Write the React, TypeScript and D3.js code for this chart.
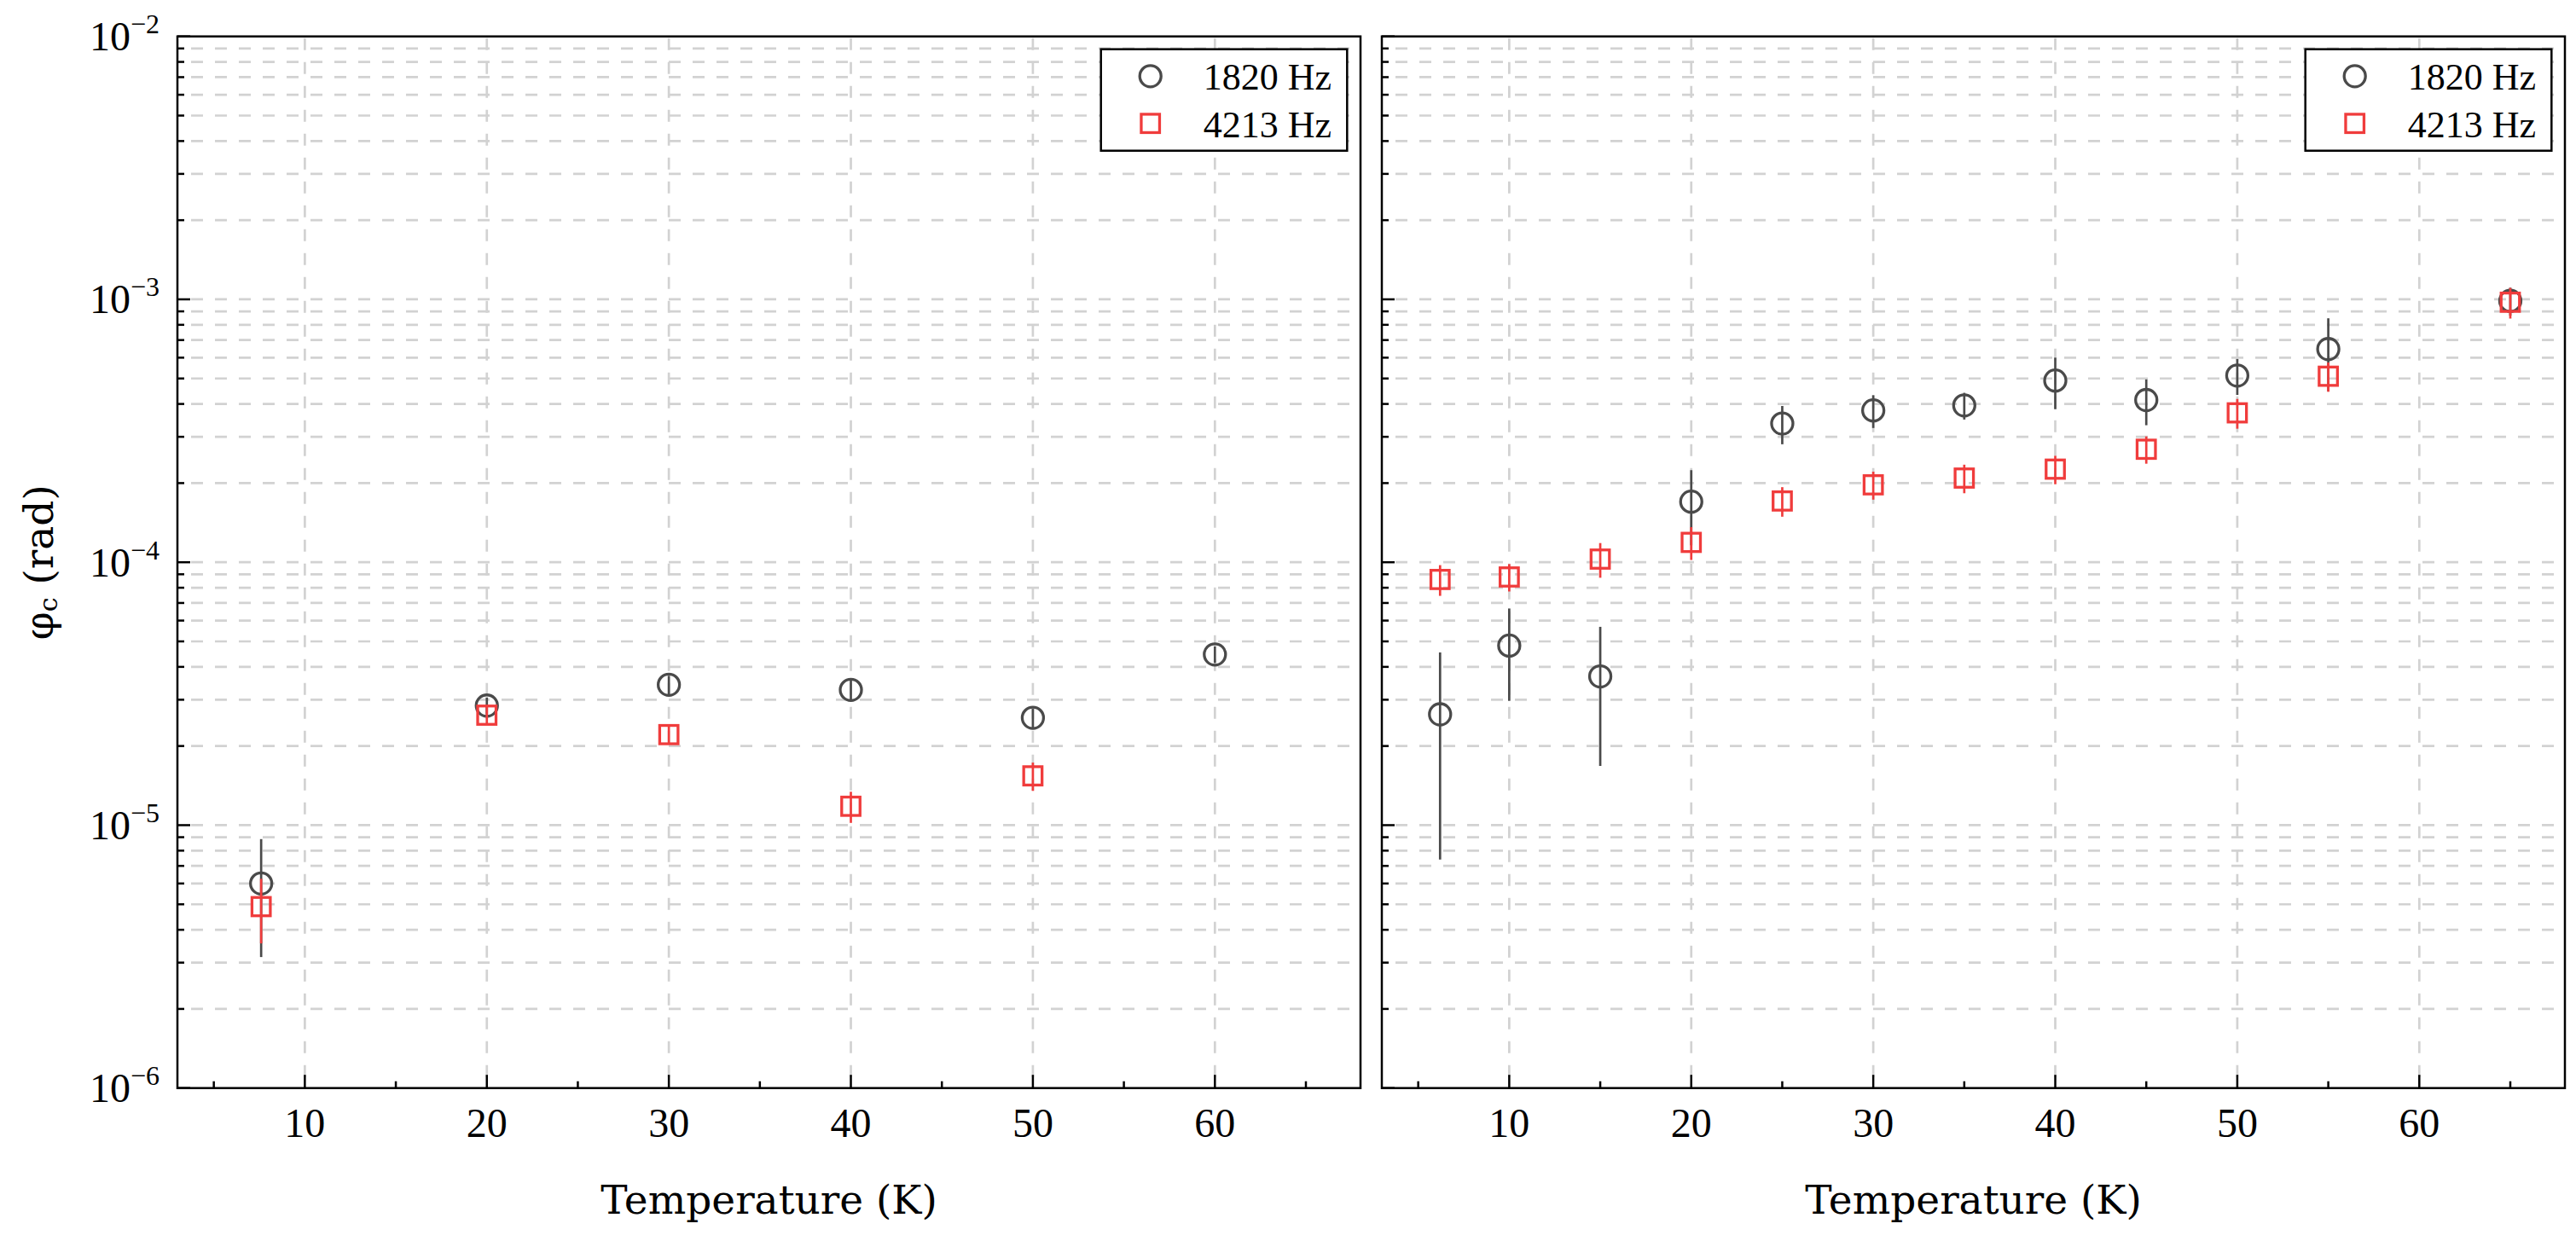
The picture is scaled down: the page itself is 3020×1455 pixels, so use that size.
import React from 'react';
import * as d3 from 'd3';

// ---- data ----
const seriesNames = ['1820 Hz', '4213 Hz'];
const xMajorTicks = [10, 20, 30, 40, 50, 60];
const xMinorTicks = [5, 15, 25, 35, 45, 55, 65];
const yDecades = [-6, -5, -4, -3, -2];
const xDomain = [3, 68];
const yDomain = [1e-6, 1e-2];

// left panel
const leftT1820 = [7.6, 20, 30, 40, 50, 60];
const leftV1820 = [6.0e-6, 2.85e-5, 3.42e-5, 3.27e-5, 2.56e-5, 4.46e-5];
const leftE1820 = [2.85e-6, 2.1e-6, 2.8e-6, 2.8e-6, 2.1e-6, 3.2e-6];
const leftT4213 = [7.6, 20, 30, 40, 50];
const leftV4213 = [4.9e-6, 2.62e-5, 2.21e-5, 1.18e-5, 1.54e-5];
const leftE4213 = [1.35e-6, 2.0e-6, 1.6e-6, 1.6e-6, 1.9e-6];

// right panel
const rightT = [6.2, 10, 15, 20, 25, 30, 35, 40, 45, 50, 55, 65];
const rightV1820 = [2.64e-5, 4.82e-5, 3.68e-5, 1.7e-4, 3.37e-4, 3.78e-4, 3.95e-4, 4.91e-4, 4.14e-4, 5.13e-4, 6.47e-4, 9.87e-4];
const rightE1820 = [1.9e-5, 1.85e-5, 2.0e-5, 5.4e-5, 5.6e-5, 5.4e-5, 4.6e-5, 1.09e-4, 8.2e-5, 8.0e-5, 2.0e-4, 1.2e-4];
const rightV4213 = [8.6e-5, 8.79e-5, 1.028e-4, 1.19e-4, 1.71e-4, 1.97e-4, 2.09e-4, 2.26e-4, 2.69e-4, 3.7e-4, 5.1e-4, 9.75e-4];
const rightE4213 = [1.15e-5, 1.05e-5, 1.55e-5, 1.7e-5, 2.2e-5, 2.4e-5, 2.6e-5, 2.8e-5, 3.2e-5, 4.8e-5, 6.5e-5, 1.3e-4];

// ---- styles ----
const W = 3020;
const H = 1455;
const TOP = 42.7;
const BOTTOM = 1275.7;
const GRAY = '#4a4a4a';
const RED = '#f03c3c';
const GRID = '#d2d2d2';
const TICK_FONT = '"Liberation Serif", "Times New Roman", serif';
const TITLE_FONT = '"DejaVu Serif", serif';

type Pt = { t: number; v: number; e: number };
const zip = (t: number[], v: number[], e: number[]): Pt[] => t.map((tt, i) => ({ t: tt, v: v[i], e: e[i] }));

function Panel({ x0, x1, s1, s2, showYLabels, showYTitle }: { x0: number; x1: number; s1: Pt[]; s2: Pt[]; showYLabels: boolean; showYTitle: boolean }) {
  const x = d3.scaleLinear().domain(xDomain).range([x0, x1]);
  const y = d3.scaleLog().domain(yDomain).range([BOTTOM, TOP]);
  const yMinor: number[] = [];
  yDecades.slice(0, -1).forEach((d) => {
    for (let k = 2; k <= 9; k++) yMinor.push(k * Math.pow(10, d));
  });
  const yMajor = yDecades.map((d) => Math.pow(10, d));
  const cx = (x0 + x1) / 2;
  const lw = 288.6;
  const lh = 119;
  const lx = x1 - 15.7 - lw;
  const ly = TOP + 15;
  const sq = 21.5;
  return (
    <g>
      {/* grid */}
      <g stroke={GRID} strokeWidth={2.7} strokeDasharray="14 14" fill="none">
        {[...yMinor, ...yMajor.slice(1, -1)].map((v, i) => (
          <line key={'gy' + i} x1={x0 + 2} x2={x1 - 2} y1={y(v)} y2={y(v)} strokeDashoffset={-14} />
        ))}
        {xMajorTicks.map((t) => (
          <line key={'gx' + t} x1={x(t)} x2={x(t)} y1={TOP + 2} y2={BOTTOM - 2} />
        ))}
      </g>
      {/* series 1 */}
      <g stroke={GRAY} fill="none">
        {s1.map((p, i) => (
          <line key={'e1' + i} x1={x(p.t)} x2={x(p.t)} y1={y(p.v + p.e)} y2={y(Math.max(p.v - p.e, 1e-7))} strokeWidth={2.7} />
        ))}
        {s1.map((p, i) => (
          <circle key={'c1' + i} cx={x(p.t)} cy={y(p.v)} r={12.5} strokeWidth={3.3} />
        ))}
      </g>
      {/* series 2 */}
      <g stroke={RED} fill="none">
        {s2.map((p, i) => (
          <line key={'e2' + i} x1={x(p.t)} x2={x(p.t)} y1={y(p.v + p.e)} y2={y(Math.max(p.v - p.e, 1e-7))} strokeWidth={2.7} />
        ))}
        {s2.map((p, i) => (
          <rect key={'r2' + i} x={x(p.t) - sq / 2} y={y(p.v) - sq / 2} width={sq} height={sq} strokeWidth={3.3} />
        ))}
      </g>
      {/* ticks */}
      <g stroke="#000" strokeWidth={2.5}>
        {yMajor.map((v, i) => (
          <line key={'ty' + i} x1={x0} x2={x0 + 15} y1={y(v)} y2={y(v)} />
        ))}
        {yMinor.map((v, i) => (
          <line key={'tym' + i} x1={x0} x2={x0 + 8} y1={y(v)} y2={y(v)} />
        ))}
        {xMajorTicks.map((t) => (
          <line key={'tx' + t} x1={x(t)} x2={x(t)} y1={BOTTOM} y2={BOTTOM - 15.5} />
        ))}
        {xMinorTicks.map((t) => (
          <line key={'txm' + t} x1={x(t)} x2={x(t)} y1={BOTTOM} y2={BOTTOM - 8} />
        ))}
      </g>
      {/* frame */}
      <rect x={x0} y={TOP} width={x1 - x0} height={BOTTOM - TOP} fill="none" stroke="#000" strokeWidth={2.5} />
      {/* x tick labels */}
      <g fontFamily={TICK_FONT} fontSize={48} textAnchor="middle" fill="#000">
        {xMajorTicks.map((t) => (
          <text key={'lx' + t} x={x(t)} y={1333}>{t}</text>
        ))}
      </g>
      {/* y tick labels */}
      {showYLabels && (
        <g fontFamily={TICK_FONT} fontSize={48} textAnchor="end" fill="#000">
          {yDecades.map((d) => (
            <text key={'ly' + d} x={187} y={y(Math.pow(10, d)) + 16.5}>
              10<tspan fontSize={32} dy={-20}>{'\u2212' + Math.abs(d)}</tspan>
            </text>
          ))}
        </g>
      )}
      {/* axis titles */}
      <text x={cx} y={1423} textAnchor="middle" fontFamily={TITLE_FONT} fontSize={47} fill="#000">Temperature (K)</text>
      {showYTitle && (
        <text transform={`translate(62,${(TOP + BOTTOM) / 2}) rotate(-90)`} textAnchor="middle" fontFamily={TITLE_FONT} fontSize={47} fill="#000">
          φ<tspan fontSize={30} dy={5}>c</tspan><tspan dy={-5}> (rad)</tspan>
        </text>
      )}
      {/* legend */}
      <g>
        <rect x={lx} y={ly} width={lw} height={lh} fill="#fff" stroke="#000" strokeWidth={2.5} />
        <circle cx={lx + 58} cy={ly + 31.6} r={12.5} fill="none" stroke={GRAY} strokeWidth={3.3} />
        <rect x={lx + 58 - sq / 2} y={ly + 87 - sq / 2} width={sq} height={sq} fill="none" stroke={RED} strokeWidth={3.3} />
        <text x={lx + 120} y={ly + 31.6 + 16} fontFamily={TICK_FONT} fontSize={44} fill="#000">{seriesNames[0]}</text>
        <text x={lx + 120} y={ly + 87 + 16} fontFamily={TICK_FONT} fontSize={44} fill="#000">{seriesNames[1]}</text>
      </g>
    </g>
  );
}

export default function App() {
  const l1 = zip(leftT1820, leftV1820, leftE1820);
  const l2 = zip(leftT4213, leftV4213, leftE4213);
  const r1 = zip(rightT, rightV1820, rightE1820);
  const r2 = zip(rightT, rightV4213, rightE4213);
  return (
    <svg width={W} height={H} viewBox={`0 0 ${W} ${H}`} style={{ position: 'absolute', left: 0, top: 0, background: '#fff' }}>
      <rect x={0} y={0} width={W} height={H} fill="#fff" />
      <Panel x0={208} x1={1595} s1={l1} s2={l2} showYLabels={true} showYTitle={true} />
      <Panel x0={1620} x1={3007} s1={r1} s2={r2} showYLabels={false} showYTitle={false} />
    </svg>
  );
}
